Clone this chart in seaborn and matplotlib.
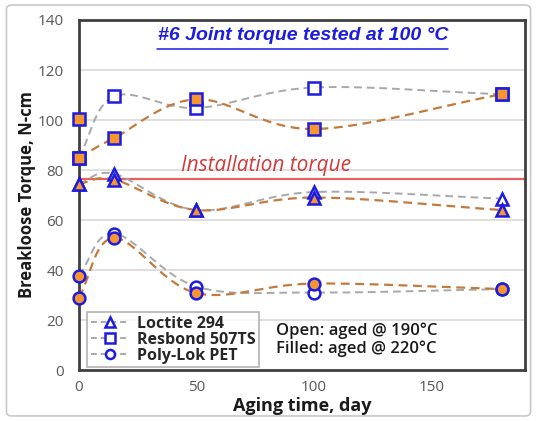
import numpy as np
import pandas as pd
import matplotlib
matplotlib.use("Agg")
import matplotlib.pyplot as plt
import seaborn as sns
from matplotlib.patches import FancyBboxPatch
from matplotlib.lines import Line2D

# ---------------- data ----------------
days = [0, 15, 50, 100, 180]
loctite_open = [74.5, 78.5, 64, 71.2, 68.6]
loctite_filled = [74.5, 76.2, 64, 69.0, 64.0]
resbond_open = [85, 109.5, 104.8, 113, 110.3]
resbond_filled = [85, 92.8, 108.3, 96.4, 110.3]
polylok_open = [37.8, 54.6, 33.4, 31.0, 32.4]
polylok_filled = [29.0, 52.8, 30.8, 34.6, 32.4]
unaged_days = [0]
resbond_unaged = [100.3]
install_torque = 76.4
series_names = ["Loctite 294", "Resbond 507TS", "Poly-Lok PET"]
x_ticks = [0, 50, 100, 150]
y_ticks = [0, 20, 40, 60, 80, 100, 120, 140]

sns.set_theme(style="white")
plt.rcParams['font.family'] = ['DejaVu Sans']

BLUE = "#1c1ce0"
ORANGE = "#f7962e"
GRAY_LINE = "#a8a8a8"
ORANGE_LINE = "#c47a3c"


def smooth(x, y, n=40):
    """Catmull-Rom path through the data points (Excel-style smoothed line)."""
    x = np.asarray(x, float)
    y = np.asarray(y, float)
    P = np.column_stack([x, y])
    P = np.vstack([P[0] - (P[1] - P[0]), P, P[-1] + (P[-1] - P[-2])])
    out = []
    t = np.linspace(0, 1, n)
    for i in range(1, len(P) - 2):
        p0, p1, p2, p3 = P[i - 1], P[i], P[i + 1], P[i + 2]
        c1 = p1 + (p2 - p0) / 6
        c2 = p2 - (p3 - p1) / 6
        seg = ((1 - t) ** 3)[:, None] * p1 + (3 * (1 - t) ** 2 * t)[:, None] * c1 \
            + (3 * (1 - t) * t ** 2)[:, None] * c2 + (t ** 3)[:, None] * p2
        out.append(seg if i == 1 else seg[1:])
    s = np.vstack(out)
    return s[:, 0], s[:, 1]


fig = plt.figure(figsize=(5.37, 4.21), dpi=100)
fig.patch.set_facecolor("white")
fig.patches.append(FancyBboxPatch((0.012, 0.012), 0.976, 0.976, boxstyle="round,pad=0,rounding_size=0.01",
                                  transform=fig.transFigure, facecolor="none",
                                  edgecolor="#c8c8c8", lw=1.2))
ax = fig.add_axes([0.147, 0.121, 0.831, 0.8315])

markers = ["^", "s", "o"]
open_vals = [loctite_open, resbond_open, polylok_open]
filled_vals = [loctite_filled, resbond_filled, polylok_filled]

# smoothed lines
for i in range(3):
    xs, ys = smooth(days, open_vals[i])
    df = pd.DataFrame({"x": xs, "y": ys})
    sns.lineplot(data=df, x="x", y="y", ax=ax, color=GRAY_LINE, lw=1.4,
                 sort=False, estimator=None, zorder=3)
    ax.lines[-1].set_dashes([4, 2.5])
    xs, ys = smooth(days, filled_vals[i])
    df = pd.DataFrame({"x": xs, "y": ys})
    sns.lineplot(data=df, x="x", y="y", ax=ax, color=ORANGE_LINE, lw=1.6,
                 sort=False, estimator=None, zorder=3)
    ax.lines[-1].set_dashes([4, 2.5])

# markers
for i in range(3):
    ms = 8 if markers[i] != "o" else 8.5
    face_open = [ORANGE] + ["white"] * (len(days) - 1)
    for j, d in enumerate(days):
        ax.plot([d], [open_vals[i][j]], marker=markers[i], ms=ms, mfc=face_open[j],
                mec=BLUE, mew=1.8, ls="none", zorder=5, clip_on=False)
    ax.plot(days, filled_vals[i], marker=markers[i], ms=ms, mfc=ORANGE,
            mec=BLUE, mew=1.8, ls="none", zorder=6, clip_on=False)
ax.plot(unaged_days, resbond_unaged, marker="s", ms=8, mfc=ORANGE, mec=BLUE,
        mew=1.8, ls="none", zorder=6, clip_on=False)

# installation torque
ax.axhline(install_torque, color="#e05050", lw=1.6, zorder=2, alpha=0.9)
ax.text(43.5, 81.8, "Installation torque", color="#d33a3a", fontsize=15,
        style="italic", family="Open Sans", va="center", ha="left", zorder=4)

# title
ax.text(0.503, 0.956, "#6 Joint torque tested at 100 °C", transform=ax.transAxes,
        ha="center", va="center", color=BLUE, fontsize=14, fontweight="bold",
        style="italic", family="Liberation Sans")
ax.plot([0.175, 0.828], [0.918, 0.918], transform=ax.transAxes, color=BLUE, lw=1.1,
        zorder=4)

ax.set_xlim(0, 190)
ax.set_ylim(0, 140)
ax.set_xticks(x_ticks)
ax.set_yticks(y_ticks)
ax.yaxis.grid(True, color="#d9d9d9", lw=1.2)
ax.xaxis.grid(False)
ax.set_axisbelow(True)
for s in ax.spines.values():
    s.set_color("#404040")
    s.set_linewidth(2.0)
ax.tick_params(axis="both", labelsize=11, labelcolor="#595959", color="#d0d0d0",
               length=5, width=1.2, pad=3, direction="out")
ax.tick_params(axis="x", pad=2.5)
ax.tick_params(axis="y", pad=6)
for lab in ax.get_xticklabels() + ax.get_yticklabels():
    lab.set_family("Open Sans")
ax.set_xlabel("Aging time, day", fontsize=13, fontweight="bold", family="Open Sans",
              color="#1a1a1a", labelpad=1)
ax.set_ylabel("Breakloose Torque, N-cm", fontsize=12, fontweight="bold", family="Open Sans",
              color="#1a1a1a", labelpad=1)

handles = [Line2D([], [], color=GRAY_LINE, ls=(0, (3, 2)), lw=1.4, marker=m, ms=6.5,
                  mfc="white", mec=BLUE, mew=1.8) for m in markers]
leg = ax.legend(handles, series_names, loc="lower left", bbox_to_anchor=(0.012, 0.0),
                frameon=True, fancybox=False, edgecolor="#a0a0a0",
                prop={"weight": "bold", "size": 11.5, "family": "Open Sans"},
                handlelength=2.4, labelspacing=0.0, borderpad=0.2, handletextpad=0.5,
                borderaxespad=0.2)
leg.get_frame().set_linewidth(1.2)
for t in leg.get_texts():
    t.set_color("#262626")

ax.text(84, 12.2, "Open: aged @ 190°C\nFilled: aged @ 220°C", fontsize=12,
        family="Open Sans", color="#1a1a1a", va="center", ha="left", linespacing=1.1,
        fontweight="semibold")

fig.savefig("out.png", dpi=100, facecolor="white")
